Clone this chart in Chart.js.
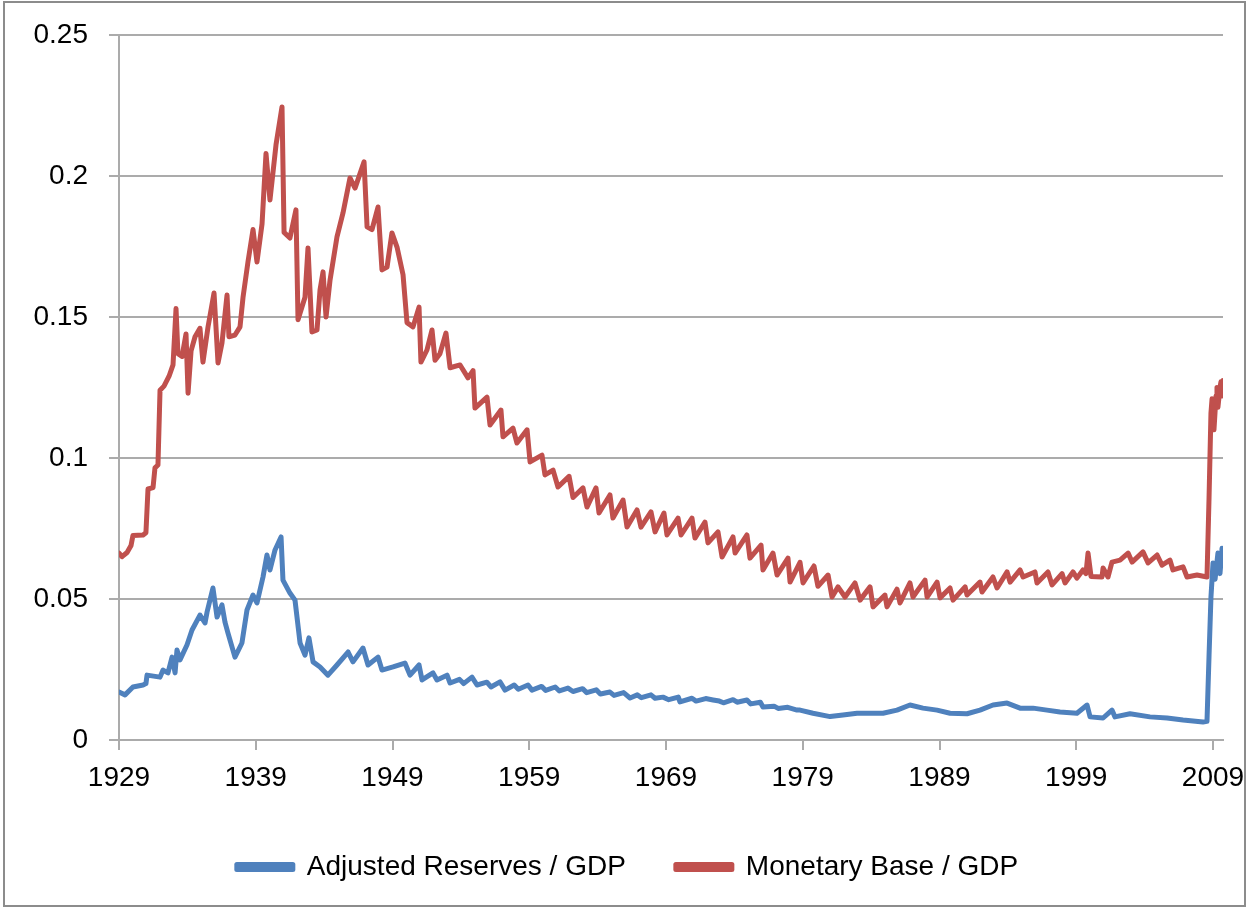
<!DOCTYPE html>
<html>
<head>
<meta charset="utf-8">
<script src="https://cdn.jsdelivr.net/npm/chart.js@4/dist/chart.umd.min.js"></script>
<style>
  html, body { margin: 0; padding: 0; background: #fff; }
  #wrap { position: relative; width: 1249px; height: 909px; }
  #c { position: absolute; left: 0; top: 0; }
  #frame { position: absolute; left: 3px; top: 1px; width: 1243px; height: 906px; box-sizing: border-box; border: 2px solid #8c8c8c; pointer-events: none; }
</style>
</head>
<body>
<div id="wrap">
  <canvas id="c" width="1249" height="909"></canvas>
  <div id="frame"></div>
</div>
<script>
// ---- data ----
const xTickYears = [1929, 1939, 1949, 1959, 1969, 1979, 1989, 1999, 2009];
const yTickValues = [0, 0.05, 0.1, 0.15, 0.2, 0.25];
const seriesNames = ['Adjusted Reserves / GDP', 'Monetary Base / GDP'];

const reservesYears = [1929.00,1929.44,1930.02,1930.76,1930.97,1931.05,1932.00,1932.22,1932.58,1932.88,1933.10,1933.24,1933.46,1933.97,1934.34,1934.92,1935.29,1935.44,1935.87,1936.17,1936.53,1936.75,1936.97,1937.48,1937.99,1938.36,1938.80,1939.09,1939.53,1939.82,1940.04,1940.41,1940.85,1940.99,1941.50,1941.87,1942.24,1942.60,1942.89,1943.19,1943.70,1944.28,1944.94,1945.75,1946.11,1946.84,1947.21,1947.94,1948.23,1949.04,1949.91,1950.28,1950.94,1951.16,1951.96,1952.25,1952.99,1953.21,1953.90,1954.20,1954.81,1955.18,1955.90,1956.20,1956.86,1957.23,1957.90,1958.20,1958.91,1959.20,1959.90,1960.20,1960.90,1961.20,1961.83,1962.20,1962.90,1963.20,1963.90,1964.20,1964.90,1965.20,1965.90,1966.37,1966.90,1967.20,1967.90,1968.20,1968.78,1969.20,1969.90,1970.02,1970.90,1971.20,1971.90,1972.44,1972.90,1973.20,1973.90,1974.20,1974.92,1975.20,1975.90,1976.09,1976.90,1977.20,1977.90,1978.58,1978.80,1979.75,1981.00,1981.94,1982.97,1983.92,1984.87,1985.89,1986.84,1987.79,1988.82,1989.77,1991.01,1991.96,1992.91,1993.94,1994.89,1995.84,1996.86,1997.81,1999.05,1999.79,2000.01,2000.96,2001.61,2001.83,2002.93,2004.39,2005.64,2006.81,2008.27,2008.56,2008.71,2008.85,2009.00,2009.15,2009.36,2009.51,2009.66];
const reservesValues = [0.0170,0.0160,0.0188,0.0195,0.0200,0.0230,0.0223,0.0248,0.0238,0.0294,0.0238,0.0319,0.0284,0.0337,0.0390,0.0443,0.0415,0.0454,0.0539,0.0436,0.0479,0.0418,0.0379,0.0294,0.0344,0.0461,0.0514,0.0486,0.0578,0.0656,0.0603,0.0674,0.0720,0.0567,0.0521,0.0496,0.0344,0.0301,0.0362,0.0277,0.0259,0.0230,0.0266,0.0312,0.0277,0.0326,0.0266,0.0294,0.0248,0.0259,0.0273,0.0230,0.0266,0.0213,0.0238,0.0213,0.0230,0.0202,0.0215,0.0200,0.0223,0.0195,0.0205,0.0188,0.0206,0.0177,0.0195,0.0180,0.0195,0.0177,0.0190,0.0176,0.0188,0.0174,0.0184,0.0172,0.0182,0.0168,0.0178,0.0163,0.0170,0.0158,0.0168,0.0149,0.0160,0.0150,0.0160,0.0148,0.0152,0.0143,0.0152,0.0135,0.0148,0.0138,0.0147,0.0142,0.0138,0.0132,0.0143,0.0134,0.0142,0.0128,0.0134,0.0117,0.0120,0.0112,0.0116,0.0106,0.0106,0.0095,0.0083,0.0089,0.0095,0.0095,0.0095,0.0106,0.0124,0.0113,0.0106,0.0095,0.0093,0.0106,0.0124,0.0131,0.0113,0.0113,0.0106,0.0099,0.0095,0.0124,0.0082,0.0078,0.0106,0.0082,0.0093,0.0082,0.0078,0.0071,0.0064,0.0066,0.0300,0.0507,0.0628,0.0570,0.0663,0.0590,0.0680];

const baseYears = [1929.00,1929.22,1929.59,1929.88,1930.02,1930.76,1930.97,1931.12,1931.49,1931.63,1931.85,1932.00,1932.29,1932.66,1932.95,1933.17,1933.31,1933.61,1933.90,1934.05,1934.27,1934.56,1934.92,1935.14,1935.51,1935.95,1936.24,1936.53,1936.90,1937.04,1937.48,1937.85,1938.07,1938.43,1938.80,1939.09,1939.46,1939.75,1940.04,1940.48,1940.92,1941.07,1941.50,1941.94,1942.09,1942.60,1942.82,1943.11,1943.48,1943.70,1943.92,1944.14,1944.43,1944.94,1945.38,1945.89,1946.26,1946.92,1947.14,1947.50,1947.94,1948.23,1948.60,1948.96,1949.33,1949.77,1950.06,1950.50,1950.94,1951.08,1951.52,1951.89,1952.11,1952.47,1952.91,1953.21,1953.94,1954.52,1954.89,1955.03,1955.91,1956.13,1956.93,1957.08,1957.81,1958.10,1958.84,1959.06,1959.93,1960.15,1960.74,1961.10,1961.91,1962.20,1962.93,1963.22,1963.88,1964.10,1964.90,1965.12,1965.86,1966.15,1966.88,1967.17,1967.90,1968.20,1968.85,1969.07,1969.88,1970.10,1970.90,1971.12,1971.85,1972.07,1972.80,1973.10,1973.90,1974.05,1974.92,1975.14,1975.95,1976.09,1976.82,1977.12,1977.92,1978.07,1978.80,1979.02,1979.82,1980.11,1980.85,1981.14,1981.58,1982.09,1982.82,1983.19,1983.92,1984.14,1985.01,1985.16,1985.89,1986.11,1986.84,1987.06,1987.94,1988.09,1988.82,1989.04,1989.77,1989.99,1990.87,1991.01,1991.96,1992.11,1992.91,1993.21,1993.94,1994.16,1994.89,1995.11,1995.98,1996.13,1996.93,1997.23,1997.96,1998.18,1998.76,1999.05,1999.49,1999.71,1999.86,2000.08,2000.88,2000.96,2001.32,2001.61,2002.20,2002.79,2003.08,2003.88,2004.25,2004.91,2005.27,2005.85,2006.07,2006.81,2007.10,2007.83,2008.56,2008.71,2008.85,2008.93,2009.07,2009.22,2009.29,2009.36,2009.51,2009.58,2009.66,2009.73];
const baseValues = [0.0663,0.0650,0.0665,0.0690,0.0725,0.0727,0.0735,0.0890,0.0895,0.0965,0.0975,0.1240,0.1255,0.1290,0.1330,0.1530,0.1370,0.1360,0.1440,0.1230,0.1380,0.1430,0.1460,0.1340,0.1465,0.1585,0.1337,0.1408,0.1578,0.1430,0.1436,0.1465,0.1570,0.1695,0.1810,0.1695,0.1830,0.2080,0.1915,0.2110,0.2245,0.1800,0.1780,0.1880,0.1490,0.1570,0.1745,0.1447,0.1454,0.1596,0.1660,0.1500,0.1630,0.1784,0.1869,0.1993,0.1957,0.2050,0.1820,0.1810,0.1890,0.1667,0.1677,0.1798,0.1748,0.1650,0.1480,0.1465,0.1535,0.1340,0.1383,0.1454,0.1347,0.1370,0.1443,0.1320,0.1330,0.1284,0.1310,0.1177,0.1216,0.1117,0.1170,0.1075,0.1106,0.1053,0.1100,0.0986,0.1010,0.0940,0.0957,0.0897,0.0935,0.0860,0.0894,0.0826,0.0894,0.0805,0.0869,0.0787,0.0851,0.0755,0.0816,0.0755,0.0809,0.0738,0.0805,0.0727,0.0787,0.0727,0.0787,0.0716,0.0773,0.0699,0.0738,0.0649,0.0720,0.0663,0.0727,0.0645,0.0691,0.0603,0.0663,0.0585,0.0645,0.0560,0.0630,0.0557,0.0617,0.0545,0.0585,0.0507,0.0543,0.0507,0.0557,0.0496,0.0543,0.0472,0.0514,0.0472,0.0535,0.0486,0.0557,0.0507,0.0567,0.0507,0.0560,0.0504,0.0539,0.0496,0.0543,0.0514,0.0560,0.0525,0.0578,0.0539,0.0596,0.0560,0.0603,0.0578,0.0596,0.0557,0.0596,0.0550,0.0590,0.0557,0.0596,0.0574,0.0603,0.0590,0.0663,0.0580,0.0578,0.0610,0.0578,0.0631,0.0638,0.0663,0.0631,0.0667,0.0628,0.0656,0.0620,0.0638,0.0603,0.0614,0.0578,0.0585,0.0578,0.0860,0.1160,0.1210,0.1100,0.1220,0.1250,0.1180,0.1250,0.1270,0.1220,0.1275];

const blue = '#4F81BD';
const red = '#C0504D';
const gridColor = '#ababab';
const fontFamily = '"Liberation Sans", Arial, sans-serif';

function toPoints(xs, ys) { return xs.map((x, i) => ({ x: x, y: ys[i] })); }

new Chart(document.getElementById('c'), {
  type: 'line',
  data: {
    datasets: [
      { label: seriesNames[0], data: toPoints(reservesYears, reservesValues), borderColor: blue, backgroundColor: blue, borderWidth: 5, pointRadius: 0, tension: 0, borderJoinStyle: 'round', borderCapStyle: 'round' },
      { label: seriesNames[1], data: toPoints(baseYears, baseValues), borderColor: red, backgroundColor: red, borderWidth: 5, pointRadius: 0, tension: 0, borderJoinStyle: 'round', borderCapStyle: 'round' }
    ]
  },
  options: {
    responsive: false,
    animation: false,
    events: [],
    layout: { padding: { left: 32, right: 26, top: 35, bottom: 18 } },
    plugins: {
      tooltip: { enabled: false },
      legend: {
        position: 'bottom',
        labels: {
          font: { family: fontFamily, size: 28 },
          color: '#000',
          boxWidth: 56,
          boxHeight: 5,
          padding: 50
        }
      }
    },
    scales: {
      x: {
        type: 'linear',
        min: 1929,
        max: 2009.73,
        afterBuildTicks: (s) => { s.ticks = xTickYears.map(v => ({ value: v })); },
        afterFit: (s) => { s.height = 63; s.paddingLeft = 0; s.paddingRight = 0; },
        ticks: {
          autoSkip: false,
          maxRotation: 0,
          padding: 11,
          color: '#000',
          font: { family: fontFamily, size: 28 },
          callback: (v) => String(v)
        },
        grid: { drawOnChartArea: false, drawTicks: true, tickLength: 10, color: gridColor, lineWidth: 2 },
        border: { display: true, color: gridColor, width: 2 }
      },
      y: {
        min: 0,
        max: 0.25,
        afterBuildTicks: (s) => { s.ticks = yTickValues.map(v => ({ value: v })); },
        afterFit: (s) => { s.width = 87; s.paddingTop = 0; s.paddingBottom = 0; },
        ticks: {
          padding: 21,
          color: '#000',
          font: { family: fontFamily, size: 28 },
          callback: (v) => String(parseFloat(v.toFixed(2)))
        },
        grid: { drawOnChartArea: true, drawTicks: true, tickLength: 10, color: gridColor, lineWidth: 2 },
        border: { display: true, color: gridColor, width: 2 }
      }
    }
  }
});
</script>
</body>
</html>
